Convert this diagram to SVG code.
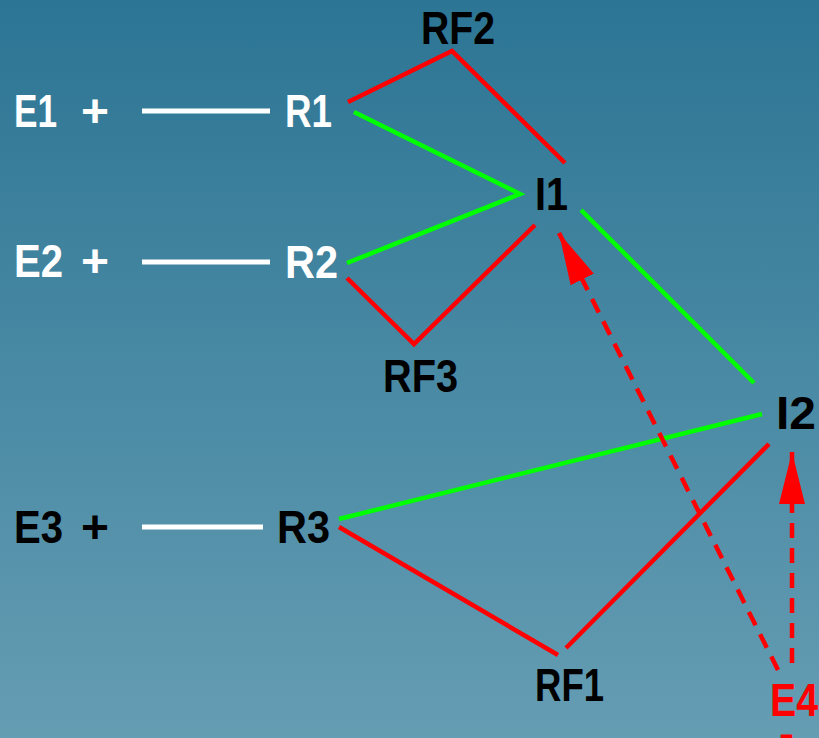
<svg xmlns="http://www.w3.org/2000/svg" width="819" height="738" viewBox="0 0 819 738">
<defs>
<linearGradient id="bg" x1="0" y1="0" x2="0" y2="1">
<stop offset="0" stop-color="#2c7594"/>
<stop offset="1" stop-color="#659db3"/>
</linearGradient>
<marker id="ah" markerUnits="userSpaceOnUse" markerWidth="54" markerHeight="28" refX="52" refY="13" orient="auto" viewBox="0 0 54 28">
<path d="M0,0 L52,13 L0,26 Z" fill="#ff0000"/>
</marker>
<style>
text{font-family:"Liberation Sans",Arial,sans-serif;font-weight:bold;font-size:46px;}
.w{fill:#ffffff}
.k{fill:#000000}
.r{fill:#ff0000}
.wl{stroke:#ffffff;stroke-width:5;fill:none}
.rl{stroke:#ff0000;stroke-width:4.5;fill:none}
.gl{stroke:#00ff00;stroke-width:4.5;fill:none}
.dl{stroke:#ff0000;stroke-width:4.5;fill:none;stroke-dasharray:15 10}
</style>
</defs>
<rect x="0" y="0" width="819" height="738" fill="url(#bg)"/>
<g id="connectors">
<line class="wl" x1="142" y1="111" x2="270" y2="111"/>
<line class="wl" x1="142" y1="262" x2="270" y2="262"/>
<line class="wl" x1="142" y1="527" x2="263" y2="527"/>
<polyline class="rl" points="348,102 452,51 565,163"/>
<polyline class="gl" points="354,112 520,194 347,263"/>
<polyline class="rl" points="347,278 414,344 535,225"/>
<line class="gl" x1="581" y1="210" x2="754" y2="383"/>
<line class="gl" x1="339" y1="519" x2="762" y2="414"/>
<polyline class="rl" points="339,527 558,655"/>
<line class="rl" x1="566" y1="648" x2="769" y2="444"/>
<line class="dl" x1="778" y1="670" x2="559" y2="233" marker-end="url(#ah)"/>
<line class="dl" x1="792" y1="663" x2="792" y2="452" marker-end="url(#ah)"/>
</g>
<g id="E1"><text class="w" x="14" y="127" textLength="43" lengthAdjust="spacingAndGlyphs">E1</text><text class="w" x="81" y="127" textLength="28" lengthAdjust="spacingAndGlyphs">+</text></g>
<g id="R1"><text class="w" x="285" y="127" textLength="47" lengthAdjust="spacingAndGlyphs">R1</text></g>
<g id="E2"><text class="w" x="14" y="277" textLength="49" lengthAdjust="spacingAndGlyphs">E2</text><text class="w" x="81" y="277" textLength="28" lengthAdjust="spacingAndGlyphs">+</text></g>
<g id="R2"><text class="w" x="285" y="278" textLength="53" lengthAdjust="spacingAndGlyphs">R2</text></g>
<g id="E3"><text class="k" x="14" y="543" textLength="49" lengthAdjust="spacingAndGlyphs">E3</text><text class="k" x="81" y="543" textLength="28" lengthAdjust="spacingAndGlyphs">+</text></g>
<g id="R3"><text class="k" x="277" y="543" textLength="53" lengthAdjust="spacingAndGlyphs">R3</text></g>
<g id="RF2"><text class="k" x="421" y="44" textLength="74" lengthAdjust="spacingAndGlyphs">RF2</text></g>
<g id="I1"><text class="k" x="535" y="210" textLength="33" lengthAdjust="spacingAndGlyphs">I1</text></g>
<g id="RF3"><text class="k" x="383" y="392" textLength="75" lengthAdjust="spacingAndGlyphs">RF3</text></g>
<g id="I2"><text class="k" x="776" y="429" textLength="40" lengthAdjust="spacingAndGlyphs">I2</text></g>
<g id="RF1"><text class="k" x="535" y="701" textLength="69" lengthAdjust="spacingAndGlyphs">RF1</text></g>
<g id="E4"><text class="r" x="770" y="716" textLength="48" lengthAdjust="spacingAndGlyphs">E4</text><text class="r" x="779" y="749" textLength="15" lengthAdjust="spacingAndGlyphs">-</text></g>
</svg>
